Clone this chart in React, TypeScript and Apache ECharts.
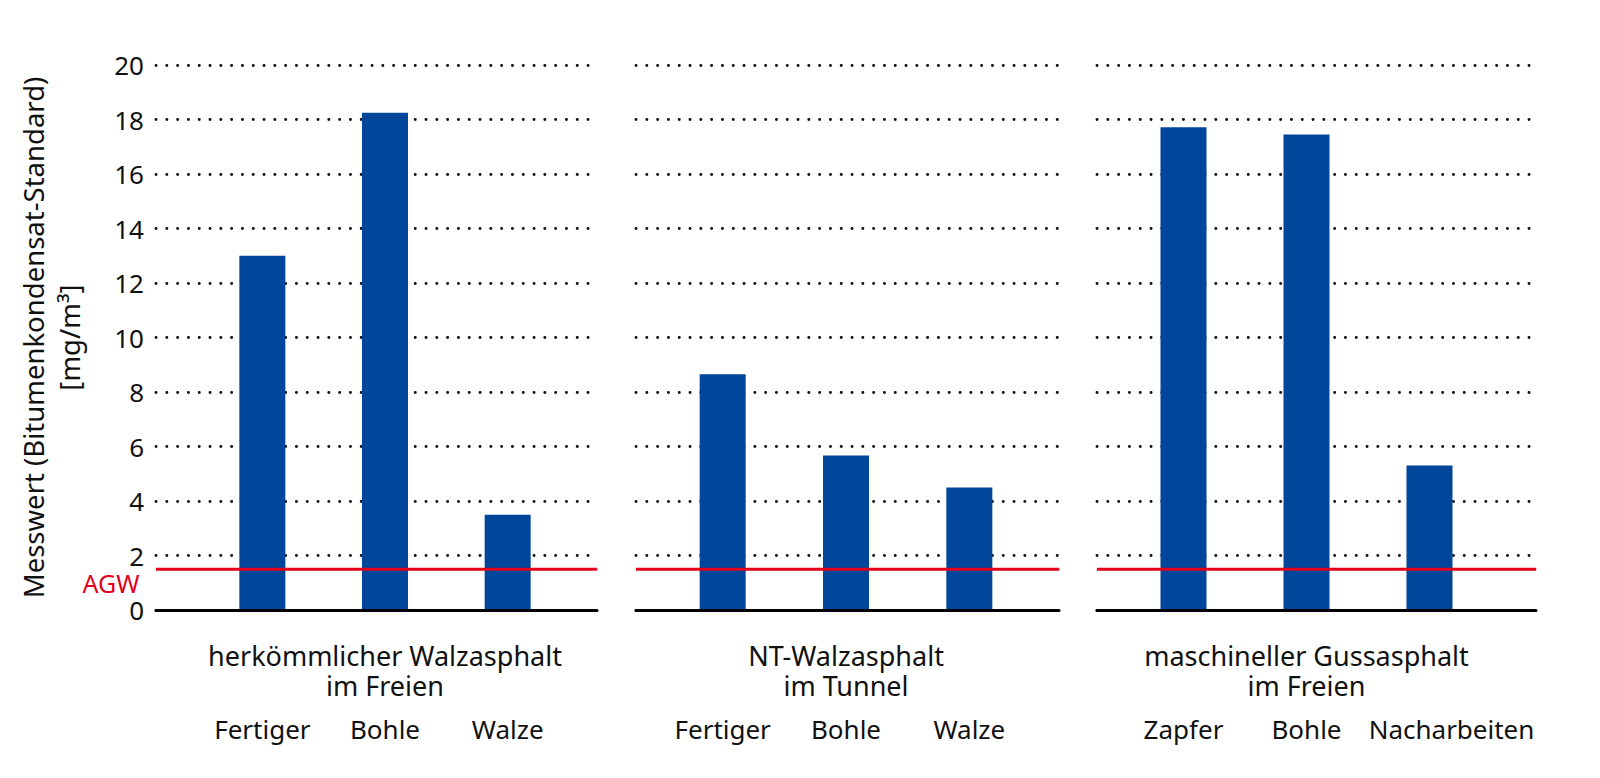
import React, { useEffect, useRef } from "react";
import * as echarts from "echarts";

const groupNames = [
  "herkömmlicher Walzasphalt\nim Freien",
  "NT-Walzasphalt\nim Tunnel",
  "maschineller Gussasphalt\nim Freien",
];
const categories1 = ["Fertiger", "Bohle", "Walze"];
const categories2 = ["Fertiger", "Bohle", "Walze"];
const categories3 = ["Zapfer", "Bohle", "Nacharbeiten"];
const values1 = [13.0, 18.25, 3.5];
const values2 = [8.65, 5.67, 4.5];
const values3 = [17.72, 17.45, 5.3];
const agw = 1.5;
const yTicks = [0, 2, 4, 6, 8, 10, 12, 14, 16, 18, 20];
const yAxisName = "Messwert (Bitumenkondensat-Standard)\n[mg/m³]";
const agwLabel = "AGW";

const FONT = "Noto Sans";
const BLUE = "#00469a";
const RED = "#e2001a";
const TXT = "#111";
const FS = 26;

// layout (pixels)
const TOP = 65;
const BOTTOM = 168;
const panels = [
  { bgL: 156, bgR: 597, barL: 201, barR: 569 },
  { bgL: 636, bgR: 1059, barL: 661, barR: 1031 },
  { bgL: 1097, bgR: 1536, barL: 1122, barR: 1491 },
];

export default function App() {
  const ref = useRef<HTMLDivElement>(null);
  useEffect(() => {
    if (!ref.current) return;
    const chart = echarts.init(ref.current, null, { renderer: "svg" });
    const cats = [categories1, categories2, categories3];
    const vals = [values1, values2, values3];
    const W = 1600;
    const grid: any[] = [];
    const xAxis: any[] = [];
    const yAxis: any[] = [];
    const series: any[] = [];
    panels.forEach((p, i) => {
      grid.push({
        left: p.bgL,
        right: W - p.bgR,
        top: TOP,
        bottom: BOTTOM,
        containLabel: false,
        outerBoundsMode: "none",
      });
      grid.push({
        left: p.barL,
        right: W - p.barR,
        top: TOP,
        bottom: BOTTOM,
        containLabel: false,
        outerBoundsMode: "none",
      });
      xAxis.push({
        type: "category",
        gridIndex: 2 * i,
        data: ["a", "b"],
        boundaryGap: false,
        z: 5,
        axisLine: { show: true, lineStyle: { color: "#000", width: 3 } },
        axisTick: { show: false },
        axisLabel: { show: false },
        splitLine: { show: false },
      });
      const catData = cats[i].map((c, j) =>
        i === 2 && j === 2 ? { value: c, textStyle: { padding: [0, 0, 0, 44] } } : c
      );
      xAxis.push({
        type: "category",
        gridIndex: 2 * i + 1,
        data: catData,
        axisLine: { show: false },
        axisTick: { show: false },
        axisLabel: {
          interval: 0,
          margin: 106,
          fontFamily: FONT,
          fontSize: FS,
          lineHeight: 26,
          color: TXT,
          hideOverlap: false,
        },
        name: groupNames[i],
        nameLocation: "middle",
        nameGap: 30,
        nameMoveOverlap: false,
        nameTextStyle: { fontFamily: FONT, fontSize: 27, color: TXT, lineHeight: 30 },
      });
      yAxis.push({
        type: "value",
        gridIndex: 2 * i,
        min: yTicks[0],
        max: yTicks[yTicks.length - 1],
        interval: 2,
        axisLine: { show: false },
        axisTick: { show: false },
        axisLabel: {
          show: i === 0,
          margin: 12,
          fontFamily: FONT,
          fontSize: FS,
          lineHeight: 26,
          color: TXT,
        },
        splitLine: {
          show: true,
          lineStyle: { color: "#111", width: 2.9, type: [0.1, 10.7], cap: "round" },
        },
        name: i === 0 ? yAxisName : "",
        nameLocation: "middle",
        nameGap: 69,
        nameMoveOverlap: false,
        nameTextStyle: { fontFamily: FONT, fontSize: 27.5, color: TXT, lineHeight: 36 },
      });
      yAxis.push({
        type: "value",
        gridIndex: 2 * i + 1,
        min: 0,
        max: 20,
        show: false,
      });
      series.push({
        type: "bar",
        xAxisIndex: 2 * i + 1,
        yAxisIndex: 2 * i + 1,
        data: vals[i],
        barWidth: 46,
        itemStyle: { color: BLUE },
        z: 2,
      });
      series.push({
        type: "line",
        xAxisIndex: 2 * i,
        yAxisIndex: 2 * i,
        symbol: "circle",
        symbolSize: 1,
        showSymbol: true,
        z: 4,
        itemStyle: { color: RED },
        lineStyle: { color: RED, width: 3 },
        data: [
          i === 0
            ? {
                value: agw,
                label: {
                  show: true,
                  position: "left",
                  distance: 16,
                  offset: [0, 14],
                  formatter: agwLabel,
                  color: RED,
                  fontFamily: FONT,
                  fontSize: 25,
                  lineHeight: 22,
                },
              }
            : agw,
          agw,
        ],
      });
    });
    chart.setOption({
      animation: false,
      backgroundColor: "#fff",
      grid,
      xAxis,
      yAxis,
      series,
    });
    return () => chart.dispose();
  }, []);
  return (
    <div
      ref={ref}
      style={{ position: "fixed", left: 0, top: 0, width: 1600, height: 778 }}
    />
  );
}
